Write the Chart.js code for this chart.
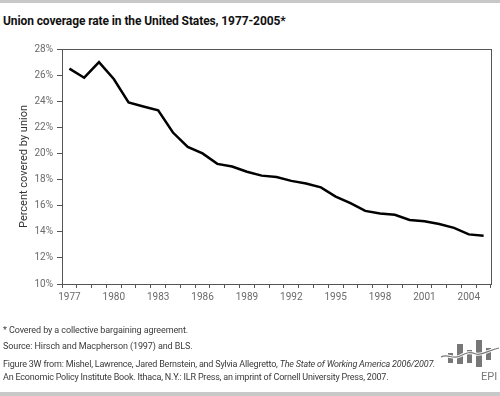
<!DOCTYPE html>
<html lang="en">
<head>
    <meta charset="UTF-8">
    <title>Union coverage rate in the United States, 1977-2005</title>
    <script src="https://cdn.jsdelivr.net/npm/chart.js"></script>
    <style>
        body {
            margin: 0;
            background: #ffffff;
            font-family: Roboto, "Open Sans", sans-serif;
        }
        #page {
            position: relative;
            width: 500px;
            height: 396px;
            overflow: hidden;
        }
        .bar {
            position: absolute;
            left: 0;
            width: 500px;
            background: #c8c8c8;
        }
        #chart-box {
            position: absolute;
            left: 0;
            top: 0;
            width: 500px;
            height: 396px;
        }
        .txt {
            position: absolute;
            left: 3px;
            white-space: nowrap;
            color: #3a3a3a;
            font-size: 9px;
            line-height: 12px;
            letter-spacing: -0.1px;
        }
        .tight { letter-spacing: -0.2px; }
        #title {
            position: absolute;
            left: 3px;
            top: 14px;
            font-size: 12px;
            font-weight: bold;
            color: #111;
            letter-spacing: -0.1px;
            white-space: nowrap;
        }
        #logo {
            position: absolute;
            left: 440px;
            top: 338px;
        }
    </style>
</head>
<body>
<div id="page">
    <div class="bar" style="top:0;height:3px;"></div>
    <div id="title">Union coverage rate in the United States, 1977-2005*</div>
    <div id="chart-box"><canvas id="chart"></canvas></div>
    <div class="txt" style="top:324px;">* Covered by a collective bargaining agreement.</div>
    <div class="txt" style="top:340px;">Source: Hirsch and Macpherson (1997) and BLS.</div>
    <div class="txt tight" style="top:358px;">Figure 3W from: Mishel, Lawrence, Jared Bernstein, and Sylvia Allegretto, <i>The State of Working America 2006/2007.</i></div>
    <div class="txt tight" style="top:371px;">An Economic Policy Institute Book. Ithaca, N.Y.: ILR Press, an imprint of Cornell University Press, 2007.</div>
    <svg id="logo" width="60" height="50" viewBox="0 0 60 50">
        <rect x="8" y="15" width="5" height="10" fill="#777777"/>
        <rect x="17" y="6" width="6" height="20" fill="#777777"/>
        <rect x="27" y="12" width="5" height="13" fill="#777777"/>
        <rect x="36" y="2" width="6" height="27" fill="#777777"/>
        <rect x="46" y="10" width="5" height="12" fill="#777777"/>
        <path d="M1 19 C8 15 12 22 20 18 S30 14 36 16 S48 12 59 10" stroke="#ffffff" stroke-width="3" fill="none"/>
        <path d="M1 19 C8 15 12 22 20 18 S30 14 36 16 S48 12 59 10" stroke="#777777" stroke-width="1.2" fill="none"/>
        <text x="41" y="42" font-size="11" fill="#777777" font-family="Roboto, sans-serif">EPI</text>
    </svg>
    <div class="bar" style="top:392px;height:4px;"></div>
</div>

<script>
    const years = [1977, 1978, 1979, 1980, 1981, 1982, 1983, 1984, 1985, 1986,
                   1987, 1988, 1989, 1990, 1991, 1992, 1993, 1994, 1995, 1996,
                   1997, 1998, 1999, 2000, 2001, 2002, 2003, 2004, 2005];
    const coverage = [26.5, 25.8, 27.0, 25.7, 23.9, 23.6, 23.3, 21.6, 20.5, 20.0,
                      19.2, 19.0, 18.6, 18.3, 18.2, 17.9, 17.7, 17.4, 16.7, 16.2,
                      15.6, 15.4, 15.3, 14.9, 14.8, 14.6, 14.3, 13.8, 13.7];
    const yTicks = [10, 12, 14, 16, 18, 20, 22, 24, 26, 28];
    const yTitle = 'Percent covered by union';

    const axisColor = '#555555';
    const labelColor = '#6b6b6b';

    // box round the plot area (top and right edges)
    const frame = {
        id: 'frame',
        afterDraw(chart) {
            const a = chart.chartArea;
            const ctx = chart.ctx;
            ctx.save();
            ctx.strokeStyle = axisColor;
            ctx.lineWidth = 1;
            ctx.strokeRect(a.left + 0.5, a.top + 0.5, a.right - a.left, a.bottom - a.top);
            ctx.restore();
        }
    };

    new Chart(document.getElementById('chart'), {
        type: 'line',
        data: {
            labels: years.map(String),
            datasets: [{
                data: coverage,
                borderColor: '#000000',
                borderWidth: 2.5,
                pointRadius: 0,
                tension: 0,
                fill: false
            }]
        },
        options: {
            responsive: true,
            maintainAspectRatio: false,
            animation: false,
            layout: { padding: { left: 0, top: 49, right: 9, bottom: 90 } },
            plugins: {
                legend: { display: false },
                tooltip: { enabled: false }
            },
            scales: {
                x: {
                    type: 'category',
                    offset: true,
                    grid: {
                        offset: true,
                        drawOnChartArea: false,
                        drawTicks: true,
                        tickLength: 4,
                        tickColor: axisColor
                    },
                    border: { display: true, color: axisColor },
                    ticks: {
                        autoSkip: false,
                        maxRotation: 0,
                        padding: 3,
                        color: labelColor,
                        font: { family: 'Roboto', size: 10 },
                        callback: function (value, index) {
                            return (years[index] - 1977) % 3 === 0 ? String(years[index]) : '';
                        }
                    },
                    afterFit: function (scale) { scale.height = 22; }
                },
                y: {
                    min: 10,
                    max: 28,
                    afterBuildTicks: function (scale) {
                        scale.ticks = yTicks.map(v => ({ value: v }));
                    },
                    grid: {
                        drawOnChartArea: false,
                        drawTicks: true,
                        tickLength: 5,
                        tickColor: axisColor
                    },
                    border: { display: true, color: axisColor },
                    ticks: {
                        padding: 4,
                        color: labelColor,
                        font: { family: 'Roboto', size: 10 },
                        callback: v => v + '%'
                    },
                    title: {
                        display: true,
                        text: yTitle,
                        color: '#333333',
                        font: { family: 'Roboto', size: 11 },
                        padding: { top: 18, bottom: 0 }
                    },
                    afterFit: function (scale) { scale.width = 62; }
                }
            }
        },
        plugins: [frame]
    });
</script>
</body>
</html>
